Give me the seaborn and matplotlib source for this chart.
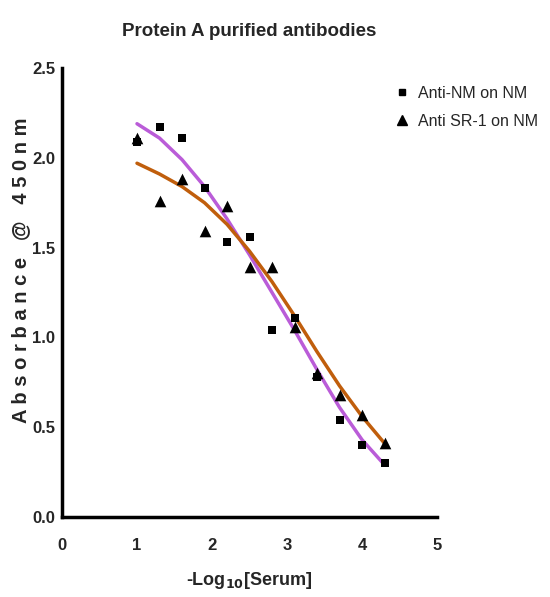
import numpy as np
import pandas as pd
import seaborn as sns
import matplotlib.pyplot as plt
from matplotlib.lines import Line2D

# -log10 dilution of serum
log_serum = [1.0, 1.3, 1.6, 1.9, 2.2, 2.5, 2.8, 3.1, 3.4, 3.7, 4.0, 4.3]

# measured absorbance
anti_nm = [2.09, 2.17, 2.11, 1.83, 1.53, 1.56, 1.04, 1.11, 0.78, 0.54, 0.40, 0.30]
anti_sr1 = [2.11, 1.76, 1.88, 1.59, 1.73, 1.39, 1.39, 1.06, 0.80, 0.68, 0.57, 0.41]

# fitted curves
fit_nm = [2.19, 2.11, 1.99, 1.84, 1.66, 1.46, 1.25, 1.04, 0.82, 0.61, 0.43, 0.29]
fit_sr1 = [1.97, 1.91, 1.84, 1.75, 1.63, 1.48, 1.31, 1.12, 0.92, 0.73, 0.56, 0.41]

series_names = ["Anti-NM on NM", "Anti SR-1 on NM"]

points = pd.DataFrame({
    "x": log_serum * 2,
    "y": anti_nm + anti_sr1,
    "series": [series_names[0]] * len(log_serum) + [series_names[1]] * len(log_serum),
})
fits = pd.DataFrame({
    "x": log_serum * 2,
    "y": fit_nm + fit_sr1,
    "series": [series_names[0]] * len(log_serum) + [series_names[1]] * len(log_serum),
})

sns.set_style("white")
plt.rcParams["font.family"] = ["Liberation Sans", "DejaVu Sans"]

fig = plt.figure(figsize=(5.5, 5.97), dpi=100)
ax = fig.add_axes([0.1127, 0.134, 0.682, 0.752])

curve_colors = {series_names[0]: "#BA5CD8", series_names[1]: "#C05E0C"}
sns.lineplot(data=fits, x="x", y="y", hue="series", palette=curve_colors,
             linewidth=2.5, legend=False, ax=ax, sort=True)

sns.scatterplot(data=points[points.series == series_names[0]], x="x", y="y",
                marker="s", color="black", s=38, linewidth=0, ax=ax, legend=False, zorder=3)
sns.scatterplot(data=points[points.series == series_names[1]], x="x", y="y",
                marker="^", color="black", s=70, linewidth=0, ax=ax, legend=False, zorder=3)

ax.set_xlim(0, 5)
ax.set_ylim(0, 2.5)
ax.set_xticks([0, 1, 2, 3, 4, 5])
ax.set_yticks([0.0, 0.5, 1.0, 1.5, 2.0, 2.5])
ax.set_yticklabels(["0.0", "0.5", "1.0", "1.5", "2.0", "2.5"])

for side in ["top", "right"]:
    ax.spines[side].set_visible(False)
for side in ["left", "bottom"]:
    ax.spines[side].set_linewidth(2.5)
    ax.spines[side].set_color("black")
ax.tick_params(axis="both", direction="out", length=5, width=2.2, color="black",
               labelsize=12)
ax.tick_params(axis="y", pad=0)
ax.tick_params(axis="x", pad=10)
for lab in ax.get_xticklabels() + ax.get_yticklabels():
    lab.set_fontweight("bold")

ax.set_xlabel("-Log$_{\\mathbf{10}}$[Serum]", fontsize=13, fontweight="bold", labelpad=12)
ax.set_ylabel("A b s o r b a n c e   @   4 5 0 n m", fontsize=14.5, fontweight="bold")
ax.yaxis.set_label_coords(-0.085, 0.55)
ax.set_title("Protein A purified antibodies", fontsize=13.5, fontweight="bold", pad=23)

handles = [
    Line2D([], [], marker="s", color="black", linestyle="none", markersize=5),
    Line2D([], [], marker="^", color="black", linestyle="none", markersize=7),
]
fig.legend(handles, series_names, loc="upper left", bbox_to_anchor=(0.69, 0.88),
           frameon=False, fontsize=11.5, handletextpad=0.5, labelspacing=0.8,
           handlelength=1.0)

fig.savefig("out.png", dpi=100)
